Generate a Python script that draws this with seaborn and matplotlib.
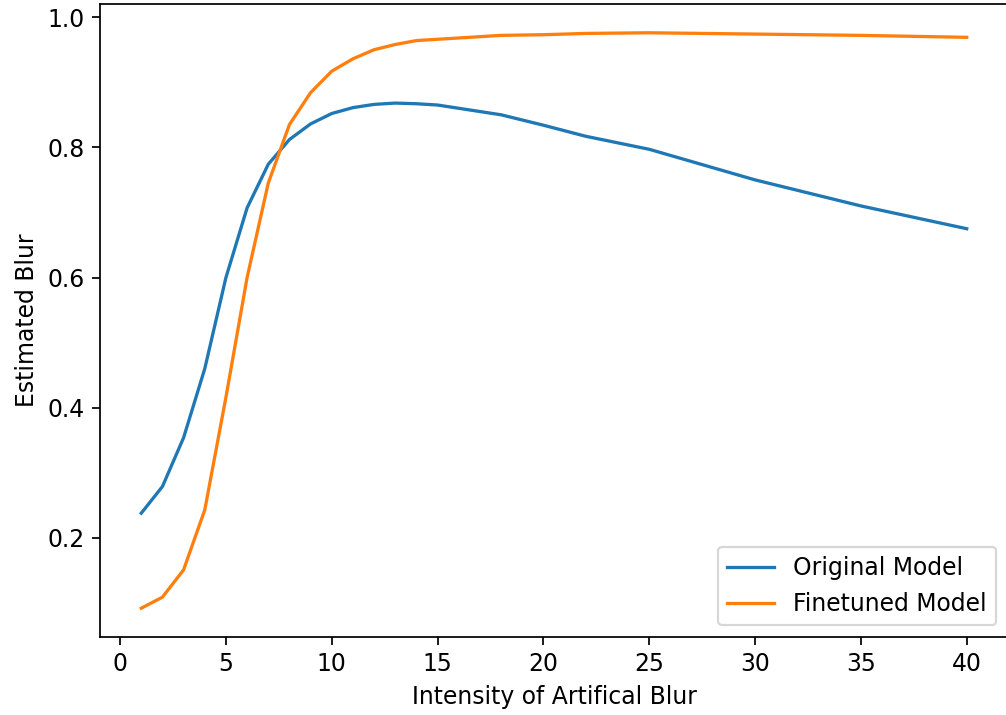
import numpy as np
import pandas as pd
import matplotlib
matplotlib.use("Agg")
import matplotlib.pyplot as plt
import seaborn as sns

# Blur intensities that were evaluated
blur_intensity = [1, 2, 3, 4, 5, 6, 7, 8, 9, 10, 11, 12, 13, 14, 15, 16,
                  18, 20, 22, 25, 30, 35, 40]

# Mean estimated blur for each model
original_model = [0.238, 0.279, 0.354, 0.460, 0.600, 0.707, 0.774, 0.812, 0.836,
                  0.852, 0.861, 0.866, 0.868, 0.867, 0.865, 0.860,
                  0.850, 0.834, 0.817, 0.797, 0.750, 0.710, 0.675]
finetuned_model = [0.092, 0.109, 0.151, 0.243, 0.416, 0.600, 0.745, 0.835, 0.884,
                   0.917, 0.936, 0.950, 0.958, 0.964, 0.966, 0.968,
                   0.972, 0.973, 0.975, 0.976, 0.974, 0.972, 0.969]

series_names = ["Original Model", "Finetuned Model"]

df = pd.DataFrame({
    "intensity": blur_intensity * 2,
    "estimate": original_model + finetuned_model,
    "model": [series_names[0]] * len(blur_intensity) + [series_names[1]] * len(blur_intensity),
})

plt.rcParams["font.family"] = ["DejaVu Sans"]
plt.rcParams["font.size"] = 10.8

dpi = 157
fig = plt.figure(figsize=(1006 / dpi, 715 / dpi), dpi=dpi)
ax = fig.add_axes([100 / 1006, 1 - 637 / 715, 908 / 1006, 633 / 715])

sns.lineplot(data=df, x="intensity", y="estimate", hue="model",
             hue_order=series_names, palette=["#1f77b4", "#ff7f0e"],
             linewidth=1.5, ax=ax)

ax.set_xlabel("Intensity of Artifical Blur")
ax.set_ylabel("Estimated Blur")
ax.set_xticks([0, 5, 10, 15, 20, 25, 30, 35, 40])
ax.set_yticks([0.2, 0.4, 0.6, 0.8, 1.0])

handles, labels = ax.get_legend_handles_labels()
ax.legend(handles, labels, loc="lower right")

fig.savefig("out.png", dpi=dpi)
